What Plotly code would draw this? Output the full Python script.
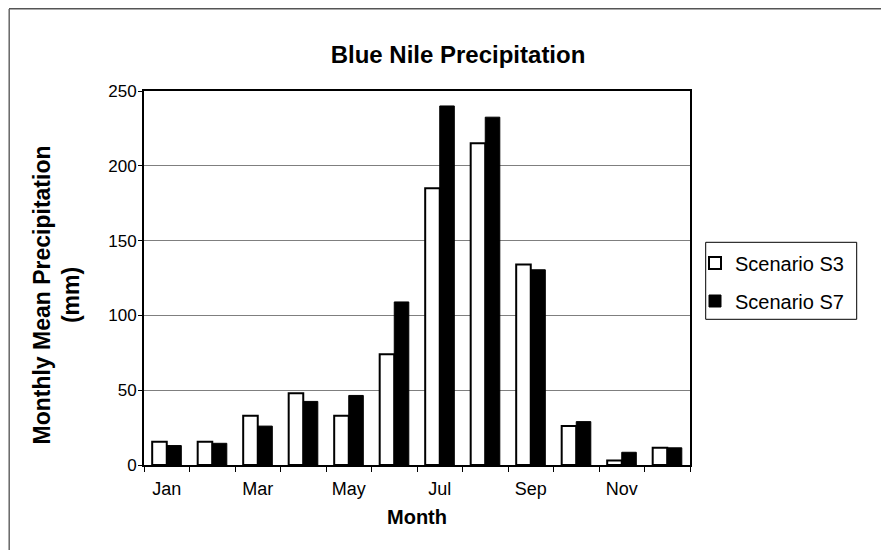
import plotly.graph_objects as go

months = ["Jan", "Feb", "Mar", "Apr", "May", "Jun", "Jul", "Aug", "Sep", "Oct", "Nov", "Dec"]
month_labels = ["Jan", "", "Mar", "", "May", "", "Jul", "", "Sep", "", "Nov", ""]
s3_values = [15.5, 15.5, 33, 48, 33, 74, 185, 215, 134, 26, 3, 11.5]
s7_values = [13, 14.5, 26, 42.5, 46.5, 109, 240, 232.5, 130.5, 29, 8.5, 11.5]
y_ticks = [0, 50, 100, 150, 200, 250]

FONT = "Liberation Sans, Arial, sans-serif"

# page has an 8px body margin -> figure is 881x542, plot area page x 144-690, y 91-465
W, H = 881, 542
L, R, T, B = 136, 199, 83, 85
PW, PH = W - L - R, H - T - B


def px(fx):  # figure x pixel -> paper
    return (fx - L) / PW


def py(fy):  # figure y pixel -> paper
    return (H - B - fy) / PH


fig = go.Figure()
fig.add_trace(go.Bar(
    x=months, y=s3_values, name="Scenario S3", legendgroup="a",
    marker=dict(color="white", line=dict(color="black", width=2)),
))
fig.add_trace(go.Bar(
    x=months, y=s7_values, name="Scenario S7", legendgroup="b",
    marker=dict(color="black", line=dict(color="black", width=1)),
))

fig.update_layout(
    width=W, height=H,
    margin=dict(l=L, r=R, t=T, b=B, autoexpand=False),
    paper_bgcolor="white", plot_bgcolor="white",
    barmode="group", bargap=0.36, bargroupgap=0,
    font=dict(family=FONT, size=15, color="black"),
    title=dict(text="<b>Blue Nile Precipitation</b>", x=(458 - 8) / W, xanchor="center",
               y=1 - 47 / H, yanchor="middle", font=dict(family=FONT, size=24, color="black")),
    legend=dict(x=px(687), y=py(274), xanchor="left", yanchor="middle",
                borderwidth=0, bgcolor="rgba(0,0,0,0)",
                font=dict(family=FONT, size=20, color="black"),
                tracegroupgap=9, itemwidth=30),
    showlegend=True,
)

fig.update_xaxes(
    type="category", tickvals=months, ticktext=month_labels,
    tickson="boundaries", ticks="outside", ticklen=5, tickcolor="black",
    showline=True, linecolor="black", linewidth=2, mirror=True,
    showgrid=False, ticklabelstandoff=6,
    title=dict(text="<b>Month</b>", font=dict(family=FONT, size=20, color="black"), standoff=12),
    tickfont=dict(family=FONT, size=18, color="black"),
)
fig.update_yaxes(
    range=[0, 250], tickvals=y_ticks,
    ticks="outside", ticklen=4, tickcolor="black",
    showline=True, linecolor="black", linewidth=2, mirror=True,
    showgrid=True, gridcolor="#7f7f7f", gridwidth=1,
    zeroline=False, ticklabelstandoff=-2,
    tickfont=dict(family=FONT, size=17, color="black"),
)

# y-axis title placed as rotated annotation
fig.add_annotation(
    text="<b>Monthly Mean Precipitation<br>(mm)</b>", textangle=-90,
    xref="paper", yref="paper", x=px(48.5), y=py(287),
    xanchor="center", yanchor="middle", showarrow=False, align="center",
    font=dict(family=FONT, size=23, color="black"),
)

# legend frame
fig.add_shape(type="rect", xref="paper", yref="paper",
              x0=px(697.7), x1=px(848.7), y0=py(311.3), y1=py(234.3),
              line=dict(color="black", width=1))

# outer chart frame (scanned border)
fig.add_shape(type="line", xref="paper", yref="paper",
              x0=px(1), x1=px(W), y0=py(0.8), y1=py(0.8),
              line=dict(color="#555555", width=1.5))
fig.add_shape(type="line", xref="paper", yref="paper",
              x0=px(1.2), x1=px(1.2), y0=py(1), y1=py(H),
              line=dict(color="#666666", width=1.5))

fig.write_html("out.html")
